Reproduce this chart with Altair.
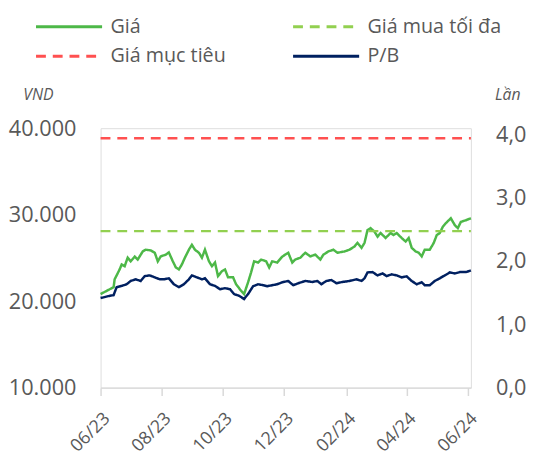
import altair as alt
import pandas as pd

# ---- data ----
price_dates = ["2023-06-01","2023-06-09","2023-06-14","2023-06-15","2023-06-20","2023-06-22","2023-06-25","2023-06-28","2023-07-01","2023-07-05",
               "2023-07-08","2023-07-13","2023-07-16","2023-07-21","2023-07-25","2023-07-28","2023-07-31","2023-08-05","2023-08-08","2023-08-12",
               "2023-08-15","2023-08-18","2023-08-21","2023-08-24","2023-08-28","2023-08-31","2023-09-03","2023-09-07","2023-09-10","2023-09-13",
               "2023-09-17","2023-09-20","2023-09-23","2023-09-26","2023-09-30","2023-10-03","2023-10-06","2023-10-11","2023-10-14","2023-10-19",
               "2023-10-22","2023-10-26","2023-10-29","2023-11-01","2023-11-05","2023-11-08","2023-11-13","2023-11-16","2023-11-19","2023-11-24",
               "2023-11-29","2023-12-02","2023-12-05","2023-12-09","2023-12-12","2023-12-17","2023-12-22","2023-12-27","2024-01-01","2024-01-06",
               "2024-01-09","2024-01-14","2024-01-19","2024-01-23","2024-01-30","2024-02-04","2024-02-09","2024-02-12","2024-02-16","2024-02-19",
               "2024-02-22","2024-02-25","2024-02-29","2024-03-03","2024-03-06","2024-03-11","2024-03-16","2024-03-19","2024-03-22","2024-03-27",
               "2024-03-31","2024-04-03","2024-04-06","2024-04-10","2024-04-13","2024-04-16","2024-04-19","2024-04-24","2024-04-28","2024-05-01",
               "2024-05-04","2024-05-07","2024-05-10","2024-05-15","2024-05-19","2024-05-22","2024-05-25","2024-05-30","2024-06-04"]
price_values = [20820,21310,21620,22530,23670,24240,24040,25030,24610,25150,
                24810,25750,25950,25870,25600,24610,25180,25380,25640,24610,
                23900,23670,24240,25030,25950,26520,25950,25600,25030,25950,
                24610,24040,24470,22900,23470,23670,22760,22760,21960,21200,
                20820,22190,23330,24610,24470,24810,24610,23900,24610,24470,
                25150,25380,25600,24470,24810,25030,25600,25180,25380,24810,
                25380,25750,25950,25600,25750,25950,26320,26740,26170,26740,
                28220,28450,28030,27460,27880,27310,27880,27650,27880,27310,
                26890,27310,26170,25750,25600,25180,25950,25950,26740,27650,
                27880,28600,29020,29590,28790,28450,29170,29360,29590]

pb_dates = ["2023-06-01","2023-06-09","2023-06-14","2023-06-17","2023-06-22","2023-06-27","2023-07-01","2023-07-06","2023-07-11","2023-07-15",
            "2023-07-20","2023-07-25","2023-07-30","2023-08-03","2023-08-08","2023-08-13","2023-08-18","2023-08-23","2023-08-28","2023-08-31",
            "2023-09-05","2023-09-10","2023-09-13","2023-09-18","2023-09-23","2023-09-28","2023-10-03","2023-10-08","2023-10-12","2023-10-17",
            "2023-10-22","2023-10-26","2023-10-31","2023-11-05","2023-11-10","2023-11-14","2023-11-19","2023-11-24","2023-11-29","2023-12-05",
            "2023-12-10","2023-12-15","2023-12-22","2023-12-29","2024-01-03","2024-01-07","2024-01-12","2024-01-17","2024-01-22","2024-01-28",
            "2024-02-04","2024-02-11","2024-02-16","2024-02-19","2024-02-22","2024-02-27","2024-03-03","2024-03-08","2024-03-12","2024-03-17",
            "2024-03-22","2024-03-27","2024-04-01","2024-04-06","2024-04-11","2024-04-16","2024-04-19","2024-04-24","2024-04-29","2024-05-04",
            "2024-05-09","2024-05-14","2024-05-19","2024-05-24","2024-05-30","2024-06-04"]
pb_values = [1.416,1.447,1.463,1.588,1.608,1.634,1.686,1.712,1.686,1.763,
             1.774,1.743,1.712,1.712,1.728,1.634,1.588,1.634,1.712,1.774,
             1.743,1.712,1.728,1.634,1.608,1.556,1.572,1.556,1.479,1.452,
             1.401,1.479,1.603,1.634,1.619,1.603,1.619,1.634,1.665,1.686,
             1.619,1.650,1.686,1.670,1.686,1.634,1.686,1.701,1.650,1.670,
             1.686,1.712,1.686,1.728,1.821,1.826,1.774,1.805,1.763,1.790,
             1.774,1.743,1.759,1.686,1.634,1.665,1.619,1.619,1.686,1.728,
             1.774,1.821,1.805,1.826,1.826,1.852]

max_buy_price = 28100
target_price = 38850

# legend fills column by column: (Giá, Giá mục tiêu) | (Giá mua tối đa, P/B)
series_names = ["Giá", "Giá mục tiêu", "Giá mua tối đa", "P/B"]
series_colors = ["#4DB848", "#FF5050", "#92D050", "#002060"]
series_dashes = [[1, 0], [10, 7], [10, 7], [1, 0]]

x_start = "2023-06-01"
x_end = "2024-06-04"
tick_dates = ["2023-06-01", "2023-08-01", "2023-10-01", "2023-12-01",
              "2024-02-01", "2024-04-01", "2024-06-01"]
left_ticks = [10000, 20000, 30000, 40000]
right_ticks = [0, 1, 2, 3, 4]


def dt(s):
    y, m, d = map(int, s.split("-"))
    return alt.DateTime(year=y, month=m, date=d)


left_rows = [{"date": d + "T00:00", "value": v, "series": "Giá"}
             for d, v in zip(price_dates, price_values)]
for name, val in [("Giá mua tối đa", max_buy_price), ("Giá mục tiêu", target_price)]:
    for d in (x_start, x_end):
        left_rows.append({"date": d + "T00:00", "value": val, "series": name})
left_df = pd.DataFrame(left_rows)
pb_df = pd.DataFrame({"date": [d + "T00:00" for d in pb_dates],
                      "pb": pb_values, "series": "P/B"})

GRAY = "#595959"
FONT = "Open Sans"

legend = alt.Legend(
    title=None, orient="none", legendX=-42, legendY=-113,
    columns=2, columnPadding=61, rowPadding=10,
    symbolType="M-5,0H5", symbolSize=180, symbolStrokeWidth=3,
    labelFontSize=20, labelColor=GRAY, labelFont=FONT, labelOffset=32,
)
color = alt.Color("series:N", scale=alt.Scale(domain=series_names, range=series_colors), legend=legend)
dash = alt.StrokeDash("series:N", scale=alt.Scale(domain=series_names, range=series_dashes), legend=legend)

x_enc = alt.X(
    "date:T",
    scale=alt.Scale(domain=[dt(x_start), dt(x_end)]),
    axis=alt.Axis(
        values=[dt(s) for s in tick_dates], format="%m/%y", labelAngle=-45,
        labelFontSize=18, labelColor=GRAY, labelFont=FONT,
        tickColor="#D9D9D9", domainColor="#D9D9D9", tickSize=8, tickWidth=1.5,
        domainWidth=1.5, grid=False, title=None, labelPadding=14,
    ),
)

left = alt.Chart(left_df).mark_line(strokeWidth=2.5).encode(
    x=x_enc,
    y=alt.Y(
        "value:Q",
        scale=alt.Scale(domain=[10000, 40000]),
        axis=alt.Axis(
            values=left_ticks, labelExpr="format(datum.value / 1000, '.3f')",
            labelFontSize=22, labelColor=GRAY, labelFont=FONT,
            ticks=False, domain=False, grid=False, labelPadding=25,
            title="VND", titleAngle=0, titleFontStyle="italic", titleFontWeight="normal",
            titleFontSize=16, titleColor=GRAY, titleFont=FONT,
            titleX=-79, titleY=-34, titleAlign="left", titleBaseline="middle",
        ),
    ),
    color=color,
    strokeDash=dash,
    detail="series:N",
)

right = alt.Chart(pb_df).mark_line(strokeWidth=2.5).encode(
    x=x_enc,
    y=alt.Y(
        "pb:Q",
        scale=alt.Scale(domain=[0, 4.1]),
        axis=alt.Axis(
            orient="right", values=right_ticks,
            labelExpr="replace(format(datum.value, '.1f'), '.', ',')",
            labelFontSize=22, labelColor=GRAY, labelFont=FONT,
            ticks=False, domain=False, grid=False, labelPadding=25,
            title="Lần", titleAngle=0, titleFontStyle="italic", titleFontWeight="normal",
            titleFontSize=16, titleColor=GRAY, titleFont=FONT,
            titleX=24, titleY=-34, titleAlign="left", titleBaseline="middle",
        ),
    ),
    color=color,
    strokeDash=dash,
)

chart = alt.layer(left, right).resolve_scale(y="independent").properties(
    width=376, height=263.4,
    padding={"left": 94, "top": 118.6, "right": 59, "bottom": 70},
    autosize="none",
).configure_view(stroke=None).configure(font=FONT)

chart.save("out.html", embed_options={"renderer": "svg", "actions": False})
